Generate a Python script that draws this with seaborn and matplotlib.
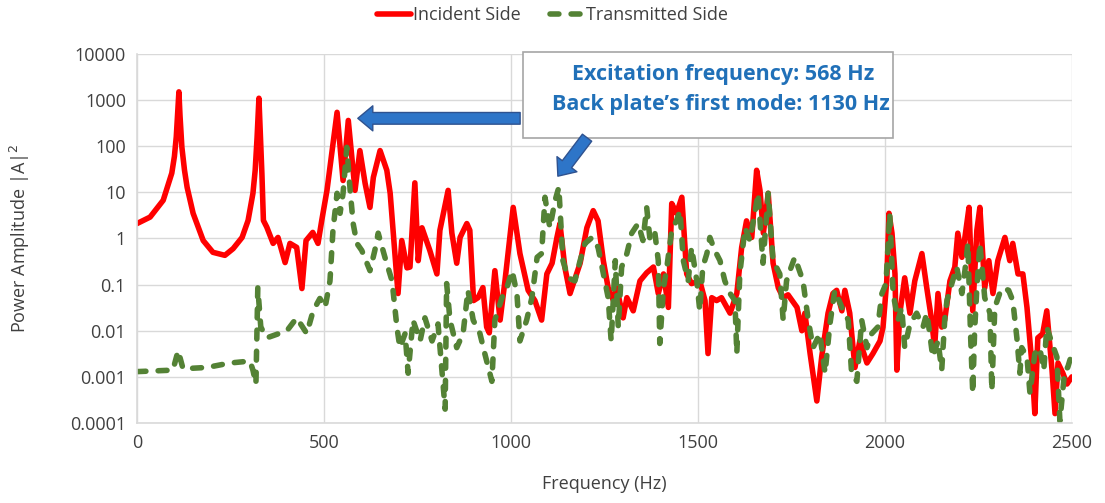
import matplotlib
matplotlib.use("Agg")
import matplotlib.pyplot as plt
from matplotlib.patches import Rectangle
import numpy as np
import pandas as pd
import seaborn as sns

# Power spectra measured on both sides of the plate
incident_freq = [
    0, 35, 70, 93, 100, 105, 109, 112, 115, 120, 127, 134, 150, 177, 203, 235,
    257, 281, 297, 310, 316, 321, 326, 330, 334, 338, 347, 364, 377, 396, 409,
    427, 441, 452, 470, 484, 494,
    508, 535, 551, 565, 583, 596, 610, 623, 632, 650, 668, 677, 698, 708, 722,
    730, 743, 752, 762, 783, 802, 810, 832, 842, 855, 864, 882, 890, 900, 912,
    925, 935, 942, 957, 971, 984, 1006, 1024, 1046, 1064, 1082, 1096, 1110,
    1123, 1131, 1144, 1158, 1185, 1203, 1220, 1233, 1247, 1260, 1274, 1283,
    1300, 1310, 1327, 1345, 1363, 1381, 1394, 1408, 1421, 1430, 1443, 1457,
    1470, 1483, 1505, 1519, 1527, 1537, 1550, 1563, 1586, 1604, 1617, 1630,
    1644, 1657, 1666, 1675, 1688, 1701, 1715, 1728, 1741, 1765, 1778, 1786,
    1800, 1818, 1831, 1848, 1861, 1871, 1885, 1893, 1906, 1920, 1933, 1952,
    1968, 1987, 1995, 2005, 2011, 2019, 2027, 2032, 2040, 2053, 2067, 2080,
    2099, 2112, 2125, 2133, 2142, 2152, 2160, 2174, 2187, 2195, 2206, 2214,
    2225, 2235, 2246, 2254, 2267, 2278, 2289, 2302, 2321, 2334, 2342, 2356,
    2369, 2380, 2393, 2401, 2409, 2422, 2433, 2447, 2455, 2463, 2476, 2487,
    2500,
]
incident_power = [
    2.1, 2.9, 6.7, 26, 60, 160, 550, 1500, 450, 94, 30, 12.8, 3.5, 0.9, 0.5,
    0.43, 0.6, 1.05, 2.45, 9.5, 30, 150, 1090, 160, 25, 2.45, 1.76, 0.78, 1.05,
    0.30, 0.78, 0.64, 0.082, 0.9, 1.35, 0.78, 2.45,
    11, 540, 18, 360, 11, 80, 15.6, 4.7, 21, 80, 30,
    9.5, 0.064, 0.9, 0.23, 0.24, 16, 0.33, 1.7, 0.55, 0.17, 1.5, 11, 1.3,
    0.29, 1.05, 2.1, 1.5, 0.045, 0.052, 0.086, 0.012, 0.009, 0.2, 0.017,
    0.12, 4.7, 0.47, 0.075, 0.045, 0.017, 0.17, 0.29, 1.05, 2.1, 0.24, 0.064,
    0.29, 1.7, 4, 2.4, 0.33, 0.085, 0.045, 0.085, 0.019, 0.052, 0.027, 0.12,
    0.18, 0.24, 0.064, 0.17, 0.032, 5.7, 3.5, 7.8, 0.17, 0.105, 0.12, 0.045,
    0.0032, 0.052, 0.045, 0.052, 0.024, 0.064, 0.64, 2.4, 1.05, 30, 11, 1.3,
    9.5, 0.29, 0.085, 0.052, 0.06, 0.032, 0.01, 0.024, 0.0032, 0.0003,
    0.0027, 0.024, 0.064, 0.075, 0.027, 0.075, 0.024, 0.0016, 0.006, 0.002,
    0.0032, 0.006, 0.012, 0.12, 3.5, 1.3, 0.17, 0.0014, 0.024, 0.14, 0.024,
    0.12, 0.47, 0.085, 0.017, 0.0043, 0.064, 0.012, 0.017, 0.12, 0.24, 1.3,
    0.39, 1.05, 4.7, 0.027, 1.5, 4.7, 0.085, 0.33, 0.064, 0.33, 1.05, 0.33,
    0.78, 0.17, 0.17, 0.032, 0.002, 0.00016, 0.007, 0.0086, 0.027, 0.0014,
    0.00016, 0.002, 0.0012, 0.0007, 0.001,
]

transmitted_freq = [
    0, 96, 110, 123, 187, 249, 302, 310, 318, 323, 331, 347, 401, 427, 454,
    471, 489, 503, 516, 524, 535, 543, 551, 561, 570, 578, 588, 601, 623, 636,
    645, 663, 682, 695, 703, 717, 725, 738, 757, 770, 789, 805, 824, 828, 837,
    855, 872, 885, 899, 917, 930, 949, 957, 976, 989, 1003, 1016, 1024, 1042,
    1056, 1070, 1082, 1091, 1104, 1118, 1128, 1139, 1153, 1171, 1185, 1198,
    1217, 1233, 1251, 1260, 1268, 1279, 1287, 1296, 1310, 1323, 1340, 1353,
    1363, 1372, 1385, 1394, 1398, 1408, 1417, 1430, 1443, 1452, 1461, 1474,
    1483, 1497, 1505, 1513, 1524, 1532, 1545, 1559, 1572, 1586, 1599, 1604,
    1612, 1626, 1639, 1652, 1661, 1674, 1688, 1701, 1719, 1728, 1737, 1746,
    1759, 1781, 1795, 1808, 1826, 1840, 1853, 1866, 1885, 1902, 1911, 1925,
    1938, 1952, 1965, 1981, 1992, 2003, 2013, 2022, 2035, 2045, 2053, 2067,
    2085, 2102, 2112, 2120, 2128, 2142, 2152, 2160, 2166, 2179, 2192, 2206,
    2214, 2222, 2229, 2235, 2240, 2246, 2254, 2267, 2281, 2286, 2294, 2307,
    2316, 2331, 2342, 2353, 2361, 2366, 2380, 2388, 2401, 2414, 2425, 2433,
    2447, 2460, 2468, 2481, 2489, 2500,
]
transmitted_power = [
    0.0013, 0.0014, 0.0037, 0.0015, 0.0016, 0.002, 0.0022, 0.0014, 0.0007,
    0.085, 0.012, 0.007, 0.01, 0.019, 0.0087, 0.027, 0.05, 0.032, 0.12, 1.5,
    9.5, 3.5, 9.5, 94, 11, 2.1, 0.78, 0.55, 0.2, 0.55, 1.3, 0.39, 0.12, 0.012,
    0.0043, 0.0087, 0.0012, 0.017, 0.006, 0.019, 0.006, 0.014, 0.0002, 0.105,
    0.017, 0.0043, 0.0087, 0.075, 0.017, 0.0087, 0.0032, 0.0008, 0.017, 0.052,
    0.085, 0.2, 0.064, 0.006, 0.017, 0.052, 0.39, 0.47, 7.8, 1.7, 6.6, 12.8,
    0.33, 0.14, 0.12, 0.33, 0.78, 1.05, 0.64, 0.12, 0.052, 0.006, 0.33, 0.012,
    0.24, 0.47, 1.3, 2.1, 0.9, 4.7, 0.9, 1.3, 0.33, 0.0053, 0.085, 0.24, 1.5,
    2.45, 4, 0.33, 0.12, 0.64, 0.12, 0.027, 0.24, 0.47, 1.05, 0.55, 0.33,
    0.12, 0.064, 0.045, 0.0032, 0.17, 1.7, 0.9, 3.5, 9.5, 0.29, 9.5, 0.33,
    0.17, 0.017, 0.12, 0.2, 0.39, 0.12, 0.017, 0.0043, 0.0087, 0.0012, 0.014,
    0.075, 0.032, 0.017, 0.0012, 0.0008, 0.017, 0.0043, 0.0087, 0.012, 0.064,
    0.105, 3.5, 0.064, 0.017, 0.032, 0.0043, 0.014, 0.024, 0.012, 0.024,
    0.0087, 0.0027, 0.006, 0.0014, 0.017, 0.045, 0.105, 0.24, 0.064, 0.2,
    0.78, 0.0087, 0.00044, 0.01, 0.085, 0.78, 0.052, 0.024, 0.0005, 0.032,
    0.064, 0.085, 0.075, 0.045, 0.007, 0.0012, 0.0043, 0.0027, 0.00044,
    0.0032, 0.0043, 0.0014, 0.012, 0.0053, 0.0027, 0.00011, 0.0014, 0.0016,
    0.0032,
]

series_names = ["Incident Side", "Transmitted Side"]
x_ticks = [0, 500, 1000, 1500, 2000, 2500]
y_ticks = [1e4, 1e3, 1e2, 1e1, 1, 0.1, 0.01, 0.001, 0.0001]
y_tick_labels = ["10000", "1000", "100", "10", "1", "0.1", "0.01", "0.001", "0.0001"]
note_lines = ["Excitation frequency: 568 Hz", "Back plate\u2019s first mode: 1130 Hz"]

incident = pd.DataFrame({"freq": incident_freq, "power": incident_power})
transmitted = pd.DataFrame({"freq": transmitted_freq, "power": transmitted_power})

sns.set_theme(style="white")
plt.rcParams["font.family"] = ["Open Sans", "DejaVu Sans"]

red = "#FF0000"
green = "#548235"
blue_text = "#2070B8"
grid_grey = "#D9D9D9"

fig = plt.figure(figsize=(11.05, 5.03), dpi=100)
ax = fig.add_axes([0.124, 0.159, 0.846, 0.734])

sns.lineplot(data=incident, x="freq", y="power", ax=ax, color=red,
             linewidth=4, estimator=None, sort=False, label=series_names[0])
sns.lineplot(data=transmitted, x="freq", y="power", ax=ax, color=green,
             linewidth=4, estimator=None, sort=False, label=series_names[1])
ax.lines[0].set_solid_joinstyle("round")
ax.lines[1].set_linestyle((0, (1.6, 2.2)))
ax.lines[1].set_dash_capstyle("round")
ax.lines[1].set_dash_joinstyle("round")

ax.set_yscale("log")
ax.set_xlim(0, 2500)
ax.set_ylim(1e-4, 1e4)
ax.set_xticks(x_ticks)
ax.set_xticklabels([str(t) for t in x_ticks])
ax.set_yticks(y_ticks)
ax.set_yticklabels(y_tick_labels)
ax.yaxis.set_minor_locator(matplotlib.ticker.NullLocator())
ax.tick_params(axis="both", length=0, labelsize=13, colors="#404040")
ax.tick_params(axis="x", pad=8)
ax.tick_params(axis="y", pad=8)

ax.grid(True, which="major", color=grid_grey, linewidth=1)
for side in ["top", "right"]:
    ax.spines[side].set_visible(False)
for side in ["left", "bottom"]:
    ax.spines[side].set_color(grid_grey)
    ax.spines[side].set_linewidth(1.2)

ax.set_xlabel("Frequency (Hz)", fontsize=13, color="#404040")
ax.set_ylabel("Power Amplitude |A|$^2$", fontsize=13, color="#404040")
ax.xaxis.set_label_coords(0.5, -0.14)
ax.yaxis.set_label_coords(-0.112, 0.5)

leg = ax.legend(loc="center", bbox_to_anchor=(0.5, 0.97), bbox_transform=fig.transFigure,
                ncol=2, frameon=False, fontsize=13, handlelength=1.9,
                handletextpad=0.1, columnspacing=1.6)
for txt in leg.get_texts():
    txt.set_color("#404040")

# Callout box with the two frequencies of interest
box = Rectangle((0.413, 0.772), 0.396, 0.233, transform=ax.transAxes,
                facecolor="white", edgecolor="#A6A6A6", linewidth=1.2,
                clip_on=False, zorder=5)
ax.add_patch(box)
ax.text(0.627, 0.943, note_lines[0], transform=ax.transAxes, ha="center",
        va="center", fontsize=15.5, fontweight="bold", color=blue_text, zorder=6)
ax.text(0.625, 0.862, note_lines[1], transform=ax.transAxes, ha="center",
        va="center", fontsize=15.5, fontweight="bold", color=blue_text, zorder=6)

arrow_style = dict(arrowstyle="simple,head_length=0.9,head_width=1.5,tail_width=0.7",
                   facecolor="#2E75C8", edgecolor="#2F528F", linewidth=1)
ax.annotate("", xy=(583, 400), xytext=(1032, 400), arrowprops=arrow_style, zorder=7)
ax.annotate("", xy=(1121, 20), xytext=(1208, 170), arrowprops=arrow_style, zorder=7)

fig.savefig("out.png", dpi=100, facecolor="white")
